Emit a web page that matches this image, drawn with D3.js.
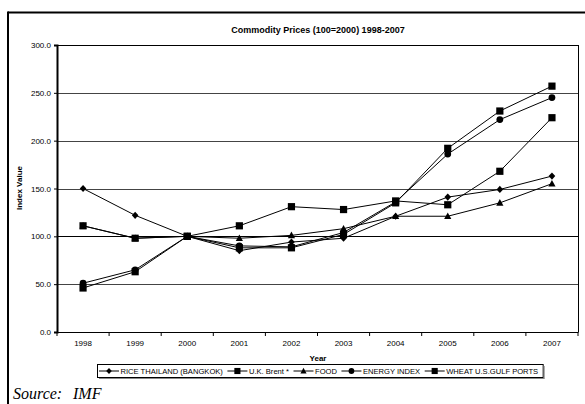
<!DOCTYPE html>
<html>
<head>
<meta charset="utf-8">
<script src="https://cdn.jsdelivr.net/npm/d3@7"></script>
<style>
  html, body { margin: 0; padding: 0; background: #fff; }
  svg { display: block; }
</style>
</head>
<body>
<svg id="chart" width="585" height="404"></svg>
<script>
// Commodity price indices, 2000 = 100
const years = ["1998", "1999", "2000", "2001", "2002", "2003", "2004", "2005", "2006", "2007"];
const rice   = [150, 122, 100, 85, 94, 98, 121, 141, 149, 163];
const brent  = [46, 63, 100, 88, 88, 102, 135, 192, 231, 257];
const food   = [111, 98, 100, 98, 101, 108, 121, 121, 135, 155];
const energy = [51, 65, 100, 90, 89, 104, 136, 186, 222, 245];
const wheat  = [111, 98, 100, 111, 131, 128, 137, 133, 168, 224];
const yTicks = [0, 50, 100, 150, 200, 250, 300];

const seriesNames = ["RICE THAILAND (BANGKOK)", "U.K. Brent *", "FOOD", "ENERGY INDEX", "WHEAT U.S.GULF PORTS"];
const seriesValues = [rice, brent, food, energy, wheat];
const seriesMarks = ["diamond", "square", "triangle", "circle", "square"];

const svg = d3.select("#chart");
const font = "'Liberation Sans', Arial, sans-serif";

const plotL = 57, plotR = 578, plotT = 45, plotB = 332;
const x = d3.scaleBand().domain(years).range([plotL, plotR]);
const y = d3.scaleLinear().domain([0, 300]).range([plotB, plotT]);

// outer frame (top and left rules)
svg.append("line").attr("x1", 8).attr("x2", 585).attr("y1", 12.5).attr("y2", 12.5)
  .attr("stroke", "#000").attr("stroke-width", 2);
svg.append("line").attr("x1", 8).attr("x2", 8).attr("y1", 11.5).attr("y2", 404)
  .attr("stroke", "#000").attr("stroke-width", 2);

// title
svg.append("text").attr("x", 318).attr("y", 33).attr("text-anchor", "middle")
  .attr("font-family", font).attr("font-weight", "bold").attr("font-size", 9)
  .text("Commodity Prices (100=2000) 1998-2007");

// gridlines
svg.append("g").selectAll("line").data(yTicks.filter(d => d > 0)).join("line")
  .attr("x1", plotL).attr("x2", plotR)
  .attr("y1", d => Math.round(y(d)) + 0.5).attr("y2", d => Math.round(y(d)) + 0.5)
  .attr("stroke", d => d === 300 || d === 100 ? "#000" : "#444").attr("stroke-width", 1);

// right border of plot area
svg.append("line").attr("x1", plotR + 0.5).attr("x2", plotR + 0.5).attr("y1", plotT).attr("y2", plotB)
  .attr("stroke", "#000").attr("stroke-width", 1);

// y axis
const yAxis = d3.axisLeft(y).tickValues(yTicks).tickSize(3).tickPadding(3).tickFormat(d3.format(".1f"));
const gy = svg.append("g").attr("transform", `translate(${plotL},0)`).call(yAxis);
gy.select(".domain").attr("stroke-width", 2);
gy.selectAll("text").attr("font-family", font).attr("font-size", 8).attr("fill", "#000");

// x axis with tick marks between categories
const gx = svg.append("g").attr("transform", `translate(0,${plotB})`)
  .call(d3.axisBottom(x).tickSize(0).tickPadding(8));
gx.select(".domain").attr("stroke-width", 1.2);
gx.selectAll("text").attr("font-family", font).attr("font-size", 8).attr("fill", "#000");
const step = x.step();
svg.append("g").selectAll("line").data(d3.range(years.length + 1)).join("line")
  .attr("x1", i => plotL + i * step).attr("x2", i => plotL + i * step)
  .attr("y1", plotB).attr("y2", plotB + 4).attr("stroke", "#000");

// axis titles
svg.append("text").attr("x", 318).attr("y", 361).attr("text-anchor", "middle")
  .attr("font-family", font).attr("font-weight", "bold").attr("font-size", 8).text("Year");
svg.append("text").attr("transform", "translate(22,188) rotate(-90)").attr("text-anchor", "middle")
  .attr("font-family", font).attr("font-weight", "bold").attr("font-size", 8).text("Index Value");

// marker shapes
function drawMark(g, kind, cx, cy, k = 1) {
  if (kind === "square") {
    g.append("rect").attr("x", cx - 3.6 * k).attr("y", cy - 3.6 * k).attr("width", 7.2 * k).attr("height", 7.2 * k).attr("fill", "#000");
  } else if (kind === "circle") {
    g.append("circle").attr("cx", cx).attr("cy", cy).attr("r", 3.4 * k).attr("fill", "#000");
  } else if (kind === "diamond") {
    g.append("path").attr("d", `M${cx},${cy - 3.6 * k}L${cx + 3.3 * k},${cy}L${cx},${cy + 3.6 * k}L${cx - 3.3 * k},${cy}Z`).attr("fill", "#000");
  } else if (kind === "triangle") {
    g.append("path").attr("d", `M${cx},${cy - 3.8 * k}L${cx + 3.6 * k},${cy + 2.8 * k}L${cx - 3.6 * k},${cy + 2.8 * k}Z`).attr("fill", "#000");
  }
}

const line = d3.line().x((d, i) => x(years[i]) + x.bandwidth() / 2).y(d => y(d));
const plot = svg.append("g");
seriesValues.forEach((vals) => {
  plot.append("path").datum(vals).attr("d", line).attr("fill", "none")
    .attr("stroke", "#000").attr("stroke-width", 1);
});
seriesValues.forEach((vals, s) => {
  const g = plot.append("g");
  vals.forEach((v, i) => drawMark(g, seriesMarks[s], x(years[i]) + x.bandwidth() / 2, y(v)));
});

// legend
const legend = svg.append("g");
const lgY = 371;
let lx = 99;
seriesNames.forEach((name, s) => {
  const it = legend.append("g");
  it.append("line").attr("x1", lx).attr("x2", lx + 20).attr("y1", lgY).attr("y2", lgY).attr("stroke", "#000");
  drawMark(it, seriesMarks[s], lx + 10, lgY, 0.85);
  const t = it.append("text").attr("x", lx + 21.5).attr("y", lgY + 3).attr("font-family", font).attr("font-size", 7.6).text(name);
  lx += 21.5 + t.node().getComputedTextLength() + 4.5;
});
legend.insert("rect", ":first-child").attr("x", 97.5).attr("y", 364.5).attr("width", lx - 97).attr("height", 13)
  .attr("fill", "#fff").attr("stroke", "#000").attr("stroke-width", 1);
legend.append("line").attr("x1", 99).attr("x2", lx + 1.5).attr("y1", 378.5).attr("y2", 378.5).attr("stroke", "#888");
legend.append("line").attr("x1", lx + 1.5).attr("x2", lx + 1.5).attr("y1", 366).attr("y2", 379).attr("stroke", "#888");

// source note
const serif = "'Liberation Serif', 'Times New Roman', serif";
const src = svg.append("text").attr("y", 399)
  .attr("font-family", serif).attr("font-style", "italic").attr("font-size", 16);
src.append("tspan").attr("x", 13).text("Source:");
src.append("tspan").attr("x", 73).text("IMF");
</script>
</body>
</html>
